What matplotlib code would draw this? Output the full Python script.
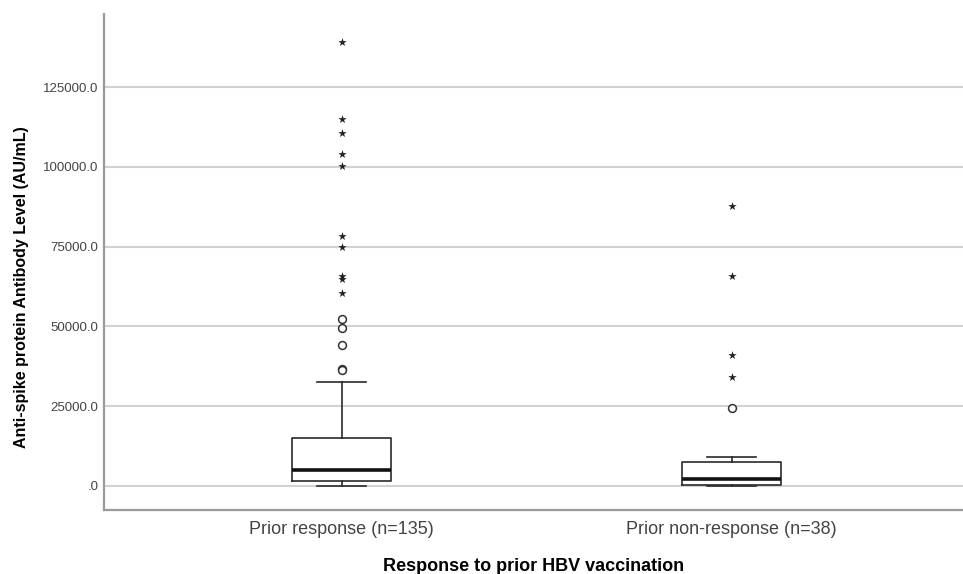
import matplotlib
matplotlib.use("Agg")
import matplotlib.pyplot as plt

plt.rcParams['font.family'] = ['Liberation Sans', 'DejaVu Sans']

categories = ["Prior response (n=135)", "Prior non-response (n=38)"]
q1 = [1700, 300]
median = [5000, 2200]
q3 = [15100, 7400]
whisker_low = [100, 100]
whisker_high = [32700, 9000]
outliers_circle = [[52200, 49600, 44200, 36500, 36200], [24500]]
outliers_star = [[139100, 114900, 110700, 103900, 100300, 78400, 75000, 65800, 65000, 60600],
                 [87700, 65800, 41100, 34300]]
y_ticks = [0, 25000, 50000, 75000, 100000, 125000]
y_tick_labels = [".0", "25000.0", "50000.0", "75000.0", "100000.0", "125000.0"]

fig = plt.figure(figsize=(9.63, 5.74), dpi=100)
ax = fig.add_axes([104/963, 64/574, 1 - 104/963, (510-14)/574])

positions = [1, 2]
stats = []
for i in range(len(categories)):
    stats.append(dict(med=median[i], q1=q1[i], q3=q3[i], whislo=whisker_low[i],
                      whishi=whisker_high[i], fliers=[]))

box_color = "#2a2a2a"
ax.bxp(stats, positions=positions, widths=0.254, showfliers=False, patch_artist=False,
       boxprops=dict(color=box_color, linewidth=1.2),
       whiskerprops=dict(color=box_color, linewidth=1.2),
       capprops=dict(color=box_color, linewidth=1.2),
       medianprops=dict(color="#111111", linewidth=2.6),
       capwidths=0.125, zorder=3)

for p, vals in zip(positions, outliers_circle):
    ax.scatter([p]*len(vals), vals, s=32, facecolors="white", edgecolors="#333333",
               linewidths=1.1, zorder=4)
for p, vals in zip(positions, outliers_star):
    ax.scatter([p]*len(vals), vals, s=40, marker="*", color="#222222", linewidths=0, zorder=4)

ax.set_xlim(0.39, 2.593)
ax.set_ylim(-7519, 147870)
ax.set_yticks(y_ticks)
ax.set_yticklabels(y_tick_labels, fontsize=9.5, color="#444444")
ax.set_xticks(positions)
ax.set_xticklabels(categories, fontsize=13, color="#444444")
ax.tick_params(axis="both", length=0)
ax.tick_params(axis="y", pad=4)
ax.tick_params(axis="x", pad=8)

ax.yaxis.grid(True, color="#d2d2d2", linewidth=1.5, zorder=0)
ax.set_axisbelow(True)
for s in ["top", "right"]:
    ax.spines[s].set_visible(False)
for s in ["left", "bottom"]:
    ax.spines[s].set_color("#9a9a9a")
    ax.spines[s].set_linewidth(1.6)

ax.set_xlabel("Response to prior HBV vaccination", fontsize=13, fontweight="bold", labelpad=14)
fig.text(22/963, 1 - 287/574, "Anti-spike protein Antibody Level (AU/mL)", rotation=90,
         fontsize=11.5, fontweight="bold", ha="center", va="center")

fig.savefig("out.png", dpi=100)
